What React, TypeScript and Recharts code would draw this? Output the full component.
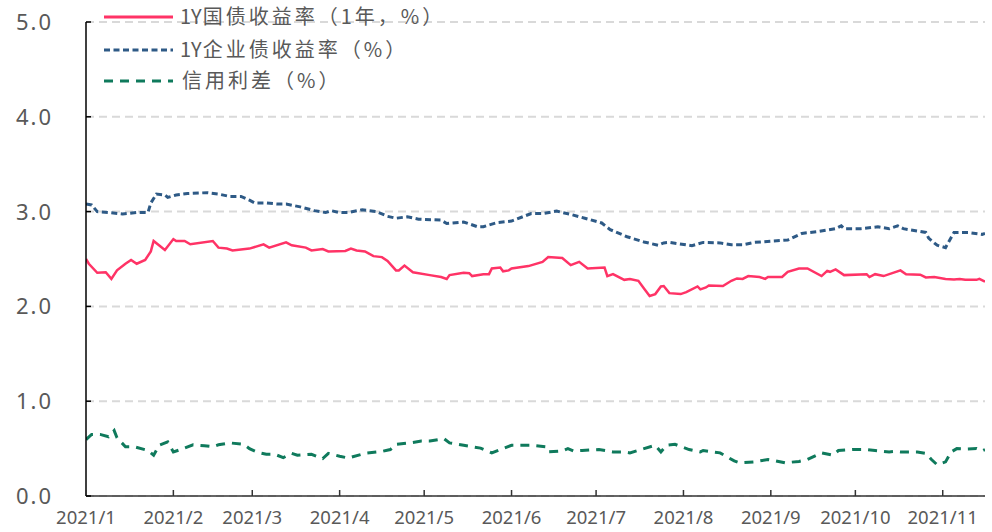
import React from "react";
import { LineChart, Line, XAxis, YAxis, CartesianGrid, Legend } from "recharts";

// day index = days since 2021-01-01
const govDays = [0,1,4,7,9,11,14,16,18,21,23,24,28,31,32,35,37,45,47,50,52,58,63,65,71,73,78,80,84,86,92,94,96,99,102,105,107,110,111,113,116,122,126,128,129,134,136,137,141,143,144,147,148,150,151,157,162,164,169,172,175,178,184,185,187,191,193,196,198,200,202,204,205,207,211,213,217,218,220,221,226,229,231,233,235,239,241,242,247,249,253,256,261,263,264,266,269,277,278,280,283,289,291,296,298,301,305,308,310,312,316,317,319];
const govVals = [2.50,2.45,2.355,2.36,2.29,2.38,2.45,2.49,2.45,2.49,2.58,2.69,2.595,2.71,2.69,2.69,2.655,2.69,2.62,2.61,2.59,2.61,2.655,2.62,2.675,2.645,2.62,2.59,2.605,2.58,2.585,2.61,2.59,2.58,2.53,2.52,2.48,2.38,2.38,2.43,2.36,2.33,2.31,2.29,2.33,2.355,2.35,2.32,2.34,2.34,2.40,2.41,2.37,2.38,2.40,2.425,2.47,2.52,2.51,2.435,2.47,2.40,2.41,2.32,2.34,2.28,2.29,2.27,2.19,2.11,2.13,2.21,2.215,2.14,2.13,2.15,2.21,2.18,2.20,2.22,2.215,2.27,2.295,2.29,2.32,2.31,2.29,2.31,2.31,2.365,2.40,2.40,2.32,2.375,2.365,2.39,2.33,2.34,2.31,2.34,2.32,2.38,2.34,2.335,2.305,2.31,2.29,2.285,2.29,2.28,2.28,2.29,2.26];

const corpDays = [0,2,4,8,13,18,22,23,25,28,29,32,36,43,47,51,55,58,60,64,68,71,76,81,85,87,90,93,98,103,107,110,114,118,126,128,134,139,141,146,151,158,162,167,172,177,183,186,192,198,203,205,207,215,219,225,229,233,237,244,249,254,260,266,268,269,275,281,285,288,290,298,299,302,305,308,313,318,319];
const corpVals = [3.08,3.07,3.00,2.99,2.975,2.99,2.99,3.09,3.185,3.175,3.15,3.175,3.19,3.20,3.185,3.16,3.16,3.12,3.09,3.09,3.08,3.08,3.05,3.01,2.99,3.01,2.99,2.99,3.02,3.00,2.95,2.93,2.945,2.92,2.91,2.875,2.89,2.84,2.84,2.885,2.90,2.98,2.98,3.005,2.97,2.93,2.88,2.81,2.735,2.68,2.645,2.67,2.675,2.64,2.675,2.67,2.65,2.65,2.675,2.69,2.70,2.77,2.79,2.82,2.85,2.82,2.82,2.84,2.82,2.85,2.82,2.78,2.72,2.645,2.62,2.78,2.78,2.76,2.77];

const spreadDays = [0,2,5,8,10,11,14,17,22,24,26,29,31,34,38,42,45,47,51,56,58,61,64,67,70,73,75,80,84,86,90,93,99,105,108,110,115,119,122,127,129,134,140,144,147,151,158,163,164,169,171,173,176,182,185,187,191,193,198,202,204,206,209,214,218,219,225,230,232,237,242,244,248,253,256,261,265,267,272,277,280,285,287,289,295,298,300,302,305,307,309,312,316,318,319];
const spreadVals = [0.595,0.65,0.65,0.625,0.69,0.615,0.52,0.52,0.48,0.43,0.535,0.57,0.465,0.495,0.54,0.53,0.52,0.54,0.56,0.545,0.50,0.46,0.44,0.44,0.405,0.45,0.43,0.44,0.395,0.45,0.42,0.40,0.45,0.47,0.49,0.545,0.56,0.58,0.58,0.605,0.56,0.535,0.505,0.455,0.49,0.535,0.535,0.52,0.465,0.475,0.50,0.475,0.48,0.49,0.475,0.465,0.465,0.455,0.50,0.535,0.465,0.535,0.545,0.49,0.465,0.48,0.455,0.37,0.35,0.36,0.385,0.375,0.35,0.365,0.385,0.455,0.43,0.48,0.49,0.49,0.48,0.465,0.47,0.465,0.465,0.45,0.385,0.33,0.36,0.465,0.50,0.495,0.50,0.475,0.49];

const monthTicks = [0,31,59,90,120,151,181,212,243,273,304];
const monthLabels = ["2021/1","2021/2","2021/3","2021/4","2021/5","2021/6","2021/7","2021/8","2021/9","2021/10","2021/11"];
const yTicks = [0,1,2,3,4,5];

const seriesPrefix = ["1Y", "1Y", ""];
const seriesRest = ["国债收益率（1年，%）", "企业债收益率（%）", "信用利差（%）"];
const colors = ["#FF3366", "#2E5A86", "#0F7A5C"];
const dashes = ["", "6 3.5", "9 7"];

const toData = (days: number[], vals: number[]) => days.map((d, i) => ({ d, v: vals[i] }));
const govData = toData(govDays, govVals);
const corpData = toData(corpDays, corpVals);
const spreadData = toData(spreadDays, spreadVals);

const NUM = "'Noto Sans', sans-serif";
const CJK = "'Noto Sans CJK SC', sans-serif";
const TXT = "#595959";

const YTick = (props: any) => {
  const { x, y, payload } = props;
  return (
    <g>
      <line x1={x} x2={x + 5} y1={y} y2={y} stroke="#000" strokeWidth={1.5} />
      <text x={x - 33} y={y} dy="0.36em" textAnchor="end" fontFamily={NUM} fontSize={22} fill={TXT} letterSpacing={2}>
        {Number(payload.value).toFixed(1)}
      </text>
    </g>
  );
};

const XTick = (props: any) => {
  const { x, y, payload } = props;
  const idx = monthTicks.indexOf(payload.value);
  return (
    <g>
      <line x1={x} x2={x} y1={y} y2={y - 6} stroke="#333" strokeWidth={1.5} />
      <text x={x} y={y + 28} textAnchor="middle" fontFamily={NUM} fontSize={18.5} fill={TXT}>
        {idx >= 0 ? monthLabels[idx] : ""}
      </text>
    </g>
  );
};

const renderLegend = () => {
  const rows = [17, 50, 81];
  return (
    <svg width={460} height={100} style={{ display: "block" }}>
      {seriesRest.map((n, i) => (
        <g key={n}>
          <line x1={104} x2={173} y1={rows[i]} y2={rows[i]} stroke={colors[i]} strokeWidth={3} strokeDasharray={dashes[i] || undefined} />
          <text x={seriesPrefix[i] ? 180 : 182} y={rows[i]} dy="0.36em" fontFamily={CJK} fontSize={20} fill={TXT}>
            {seriesPrefix[i] ? <tspan letterSpacing={0}>{seriesPrefix[i]}</tspan> : null}
            <tspan letterSpacing={3} dx={seriesPrefix[i] ? 1 : 0}>{n}</tspan>
          </text>
        </g>
      ))}
    </svg>
  );
};

export default function App() {
  return (
    <div style={{ position: "absolute", left: 0, top: 0, width: 992, height: 532, background: "#fff" }}>
      <LineChart width={992} height={532} margin={{ top: 22, right: 7, bottom: 0, left: 0 }}>
        <CartesianGrid horizontal vertical={false} stroke="#D9D9D9" strokeWidth={2} strokeDasharray="8 5" />
        <XAxis
          type="number"
          dataKey="d"
          domain={[0, 319]}
          ticks={monthTicks}
          interval={0}
          height={36}
          tickLine={false}
          tickSize={0}
          tickMargin={0}
          axisLine={{ stroke: "#333", strokeWidth: 1.5 }}
          tick={<XTick />}
          allowDataOverflow
        />
        <YAxis
          type="number"
          domain={[0, 5]}
          ticks={yTicks}
          interval={0}
          width={86}
          tickLine={false}
          tickSize={0}
          tickMargin={0}
          axisLine={{ stroke: "#000", strokeWidth: 1.5 }}
          tick={<YTick />}
        />
        <Legend layout="horizontal" verticalAlign="middle" align="center" wrapperStyle={{ top: 0, left: 0, width: 460, height: 100 }} content={renderLegend} />
        <Line data={govData} dataKey="v" name="1Y国债收益率（1年，%）" stroke={colors[0]} strokeWidth={2.5} dot={false} isAnimationActive={false} type="linear" />
        <Line data={corpData} dataKey="v" name="1Y企业债收益率（%）" stroke={colors[1]} strokeWidth={3} strokeDasharray={dashes[1]} dot={false} isAnimationActive={false} type="linear" />
        <Line data={spreadData} dataKey="v" name="信用利差（%）" stroke={colors[2]} strokeWidth={3} strokeDasharray={dashes[2]} dot={false} isAnimationActive={false} type="linear" />
      </LineChart>
    </div>
  );
}
